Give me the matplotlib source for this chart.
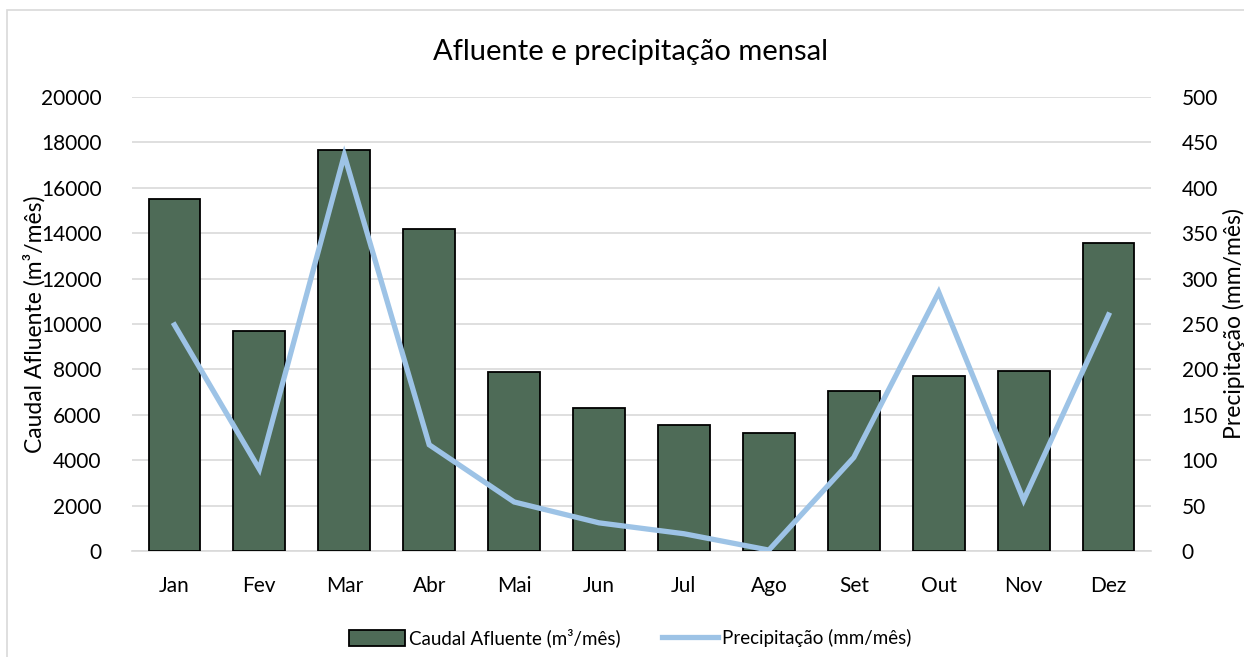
import matplotlib
matplotlib.use("Agg")
import matplotlib.pyplot as plt
from matplotlib.patches import Rectangle
from matplotlib.lines import Line2D

months = ["Jan", "Fev", "Mar", "Abr", "Mai", "Jun", "Jul", "Ago", "Set", "Out", "Nov", "Dez"]
caudal = [15500, 9700, 17650, 14200, 7900, 6300, 5550, 5200, 7050, 7720, 7930, 13570]
precip = [249, 90, 436, 117, 54, 31, 19, 1, 103, 285, 56, 260]
left_ticks = [0, 2000, 4000, 6000, 8000, 10000, 12000, 14000, 16000, 18000, 20000]
right_ticks = [0, 50, 100, 150, 200, 250, 300, 350, 400, 450, 500]

plt.rcParams['font.family'] = ['Lato', 'DejaVu Sans']

W, H = 1244, 657
fig = plt.figure(figsize=(W / 100, H / 100), dpi=100)

# chart border
fig.patches.append(Rectangle((7 / W, -0.1), 1.2, (H - 10) / H + 0.1, transform=fig.transFigure,
                             fill=False, edgecolor="#D9D9D9", linewidth=1.2))

x0, x1, y0, y1 = 132, 1151, 97, 551
ax = fig.add_axes([x0 / W, 1 - y1 / H, (x1 - x0) / W, (y1 - y0) / H])
ax2 = ax.twinx()

bar_color = "#4E6B57"
line_color = "#9DC3E6"
xs = list(range(len(months)))

ax.bar(xs, caudal, width=0.61, color=bar_color, edgecolor="black", linewidth=1.3, zorder=3,
       label="Caudal Afluente (m³/mês)")
ax2.plot(xs, precip, color=line_color, linewidth=3.8, solid_joinstyle="miter", zorder=4,
         label="Precipitação (mm/mês)")

ax.set_xlim(-0.5, len(months) - 0.5)
ax.set_ylim(0, 20000)
ax2.set_ylim(0, 500)
ax.set_yticks(left_ticks)
ax2.set_yticks(right_ticks)
ax.set_xticks(xs)
ax.set_xticklabels(months)

ax.grid(axis="y", color="#D9D9D9", linewidth=1.2, zorder=0)
ax.set_axisbelow(True)
for a in (ax, ax2):
    for s in a.spines.values():
        s.set_visible(False)
    a.tick_params(length=0, labelsize=15, colors="#000000")
ax.tick_params(axis="y", pad=22)
ax.tick_params(axis="x", pad=18)
ax2.tick_params(axis="y", pad=22)
ax.spines["bottom"].set_visible(True)
ax.spines["bottom"].set_color("#D9D9D9")
ax.spines["bottom"].set_linewidth(1.2)

ax.set_ylabel("Caudal Afluente (m³/mês)", fontsize=16.5)
ax2.set_ylabel("Precipitação (mm/mês)", fontsize=16.5)
# place label centers in pixel coordinates
ax.yaxis.set_label_coords((34 - x0) / (x1 - x0), 0.5)
ax2.yaxis.set_label_coords((1234 - x0) / (x1 - x0), 0.5)
ax.yaxis.label.set_va("center")
ax2.yaxis.label.set_va("center")

fig.text(630 / W, 1 - 52 / H, "Afluente e precipitação mensal", fontsize=21, ha="center", va="center")

handles = [Rectangle((0, 0), 1, 1, facecolor=bar_color, edgecolor="black", linewidth=1.3),
           Line2D([0], [0], color=line_color, linewidth=3.8)]
fig.legend(handles, ["Caudal Afluente (m³/mês)", "Precipitação (mm/mês)"],
           loc="center", bbox_to_anchor=(630 / W, 1 - 638 / H), ncol=2, frameon=False,
           fontsize=13.5, handlelength=3.0, handleheight=0.9, handletextpad=0.2, columnspacing=2.2)

fig.savefig("out.png", dpi=100)
